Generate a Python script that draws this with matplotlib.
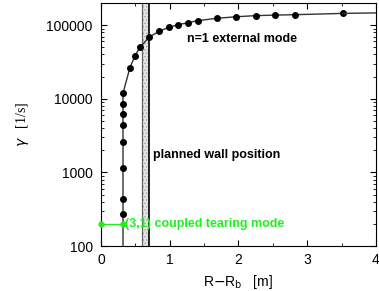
import matplotlib
matplotlib.use("Agg")
import matplotlib.pyplot as plt

plt.rcParams['font.family'] = ['Liberation Sans', 'DejaVu Sans']
plt.rcParams['hatch.color'] = '#888888'
plt.rcParams['hatch.linewidth'] = 0.5

# n=1 external mode growth rate vs wall distance
x_ext = [0.32, 0.32, 0.32, 0.32, 0.32, 0.32, 0.32, 0.32, 0.32,
         0.42, 0.495, 0.567, 0.70, 0.844, 0.989, 1.125, 1.265, 1.406,
         1.687, 1.964, 2.25, 2.53, 2.817, 3.52]
y_ext = [80, 272, 430, 1137, 2610, 4365, 6150, 8490, 11900,
         26300, 38500, 50000, 68500, 82600, 93500, 101600, 108000, 115000,
         124000, 130000, 134700, 137000, 138700, 144500]
x_tail = [3.52, 4.2]
y_tail = [144500, 147500]

# (3,1) coupled tearing mode
x_tear = [0.0, 0.32]
y_tear = [200, 200]

# planned wall band
wall_lo, wall_hi = 0.59, 0.70

fig = plt.figure(figsize=(3.79, 2.91), dpi=100)
ax = fig.add_axes([0.2665, 0.1546, 0.7255, 0.8351])

ax.axvspan(wall_lo, wall_hi, facecolor='#e4e4e4', hatch='.....', edgecolor='#999999', linewidth=0, zorder=1)
ax.axvline(wall_lo, color='#666666', lw=0.9, zorder=2)
ax.axvline(wall_hi, color='black', lw=1.2, zorder=2)

ax.plot(x_ext, y_ext, '-', color='#333333', lw=1.0, marker='o', ms=4,
        mfc='black', mec='black', zorder=3)
ax.plot(x_tail, y_tail, '-', color='#333333', lw=1.0, zorder=3)
ax.plot(x_tear, y_tear, '-', color='#22ee22', lw=1.0, marker='o', ms=3.5,
        mfc='#22ee22', mec='#22ee22', zorder=4, clip_on=False)

ax.set_yscale('log')
ax.set_xlim(0, 4)
ax.set_ylim(100, 200000)
ax.set_xticks([0, 1, 2, 3, 4])
ax.set_xticks([0.5, 1.5, 2.5, 3.5], minor=True)
ax.set_yticks([100, 1000, 10000, 100000])
ax.set_yticklabels(['100', '1000', '10000', '100000'])
ax.tick_params(which='both', direction='in', top=True, right=True, labelsize=10)
ax.tick_params(which='major', length=4)
ax.tick_params(which='minor', length=2)
ax.tick_params(axis='x', pad=5)
ax.tick_params(axis='y', pad=6)

ax.text(1.245, 65600, 'n=1 external mode', fontsize=9, fontweight='bold', va='center', ha='left')
ax.text(0.76, 1740, 'planned wall position', fontsize=9, fontweight='bold', va='center', ha='left')
ax.text(0.345, 200, '(3,1) coupled tearing mode', fontsize=9, fontweight='bold', color='#22ee22', va='center', ha='left')

ax.set_xlabel(r'R$-$R$_\mathrm{b}$   [m]', fontsize=10)
ax.set_ylabel(r'$\gamma$   [1/s]', fontsize=10, family='Liberation Serif', labelpad=11)

fig.savefig('out.png', dpi=100)
